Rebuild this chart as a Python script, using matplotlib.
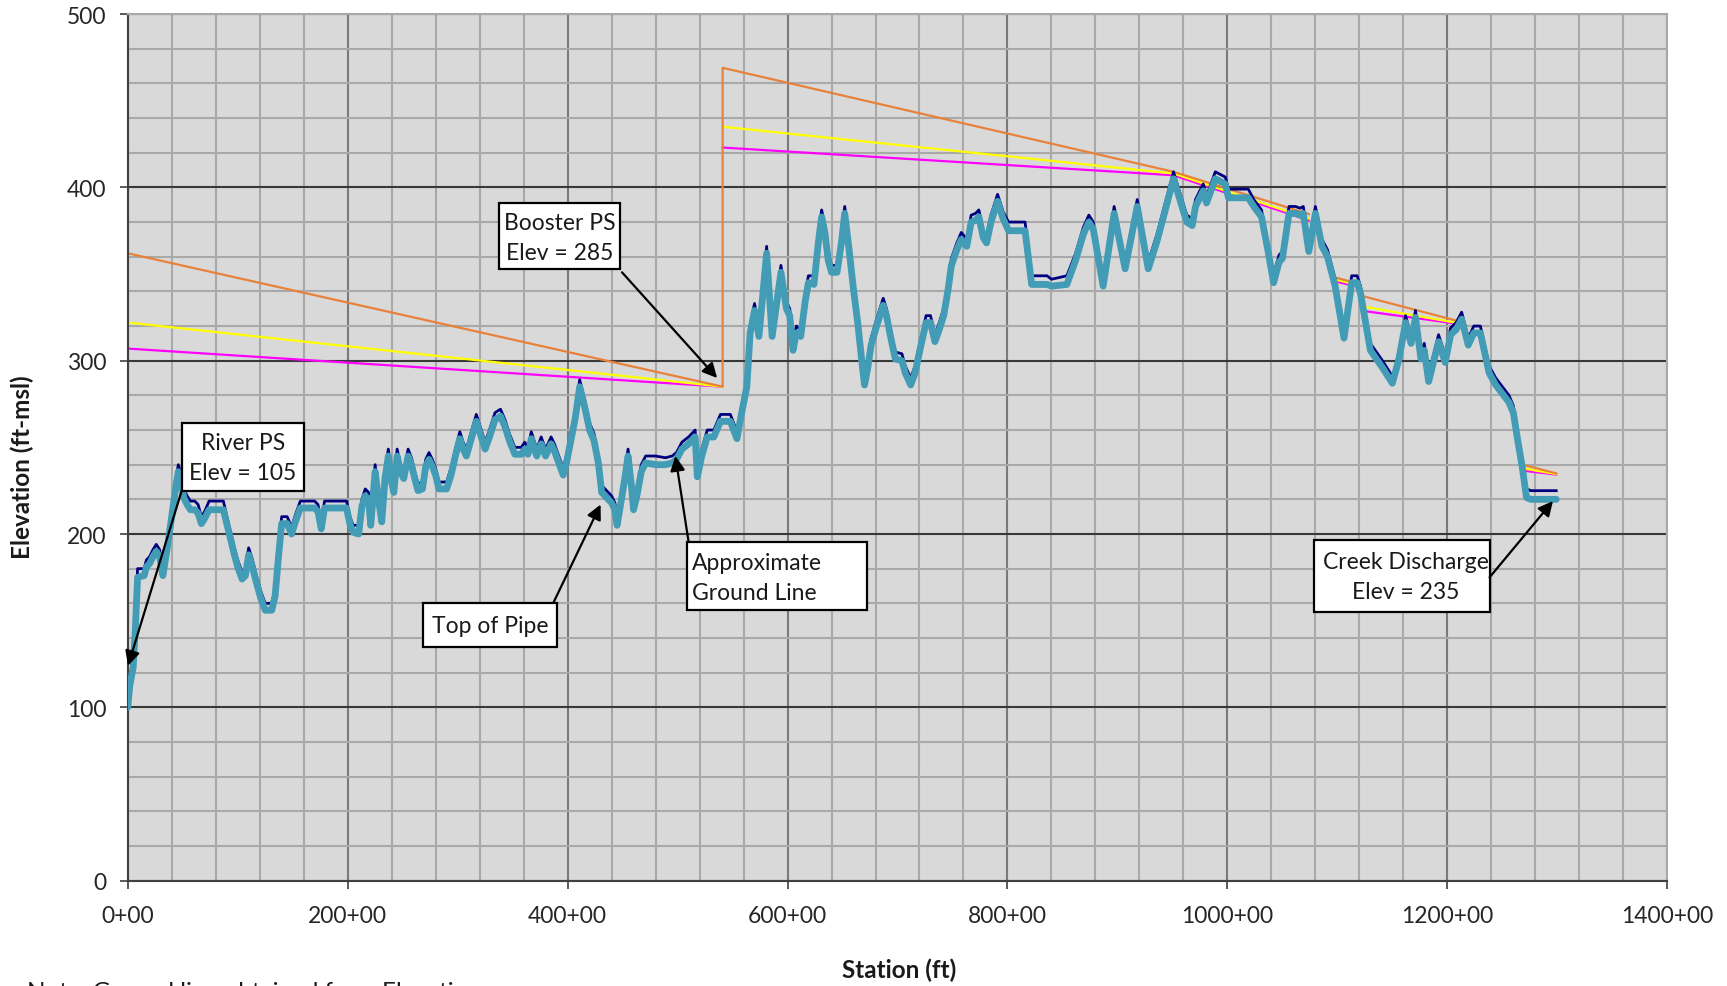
import matplotlib
matplotlib.use("Agg")
import matplotlib.pyplot as plt
from matplotlib.patches import Rectangle
from matplotlib.ticker import MultipleLocator, FuncFormatter
from matplotlib.transforms import Bbox

plt.rcParams['font.family'] = ['Lato', 'DejaVu Sans']

nan = float('nan')

# Pipeline profile: station in hundreds of feet (541 -> 541+00), elevations in ft-msl
station = [
    0, 2, 5, 7, 9, 15, 17, 20, 23, 26,
    29, 32, 36, 40, 44, 46, 48, 51, 54, 57,
    61, 64, 67, 70, 74, 87, 92, 97, 100, 104,
    107, 110, 113, 117, 121, 125, 131, 134, 137, 140,
    145, 149, 153, 157, 170, 173, 176, 179, 199, 202,
    205, 210, 213, 216, 219, 221, 225, 228, 231, 234,
    237, 240, 242, 245, 248, 251, 255, 258, 261, 264,
    268, 271, 274, 277, 280, 283, 290, 294, 298, 302,
    305, 308, 312, 317, 321, 325, 329, 334, 339, 343,
    347, 352, 358, 361, 364, 367, 372, 376, 380, 385,
    388, 392, 396, 399, 403, 407, 411, 416, 420, 424,
    428, 431, 434, 440, 443, 445, 449, 452, 455, 458,
    460, 463, 467, 471, 480, 489, 495, 499, 504, 510,
    516, 518, 522, 527, 533, 539, 548, 554, 558, 563,
    566, 570, 574, 581, 586, 594, 599, 602, 605, 608,
    612, 616, 619, 624, 628, 631, 634, 637, 640, 645,
    649, 652, 656, 660, 664, 668, 670, 673, 676, 681,
    687, 690, 693, 698, 704, 707, 712, 716, 721, 726,
    730, 734, 738, 742, 746, 749, 754, 758, 763, 767,
    771, 774, 778, 781, 785, 791, 796, 801, 816, 822,
    836, 840, 854, 862, 869, 874, 878, 887, 897, 907,
    918, 928, 936, 951, 963, 968, 971, 978, 981, 989,
    995, 998, 1001, 1019, 1024, 1031, 1037, 1042, 1047, 1050,
    1056, 1062, 1066, 1069, 1074, 1080, 1086, 1091, 1098, 1106,
    1113, 1118, 1121, 1130, 1141, 1148, 1150, 1156, 1162, 1167,
    1171, 1176, 1179, 1183, 1192, 1198, 1203, 1208, 1213, 1219,
    1224, 1230, 1238, 1244, 1250, 1256, 1260, 1264, 1268, 1272,
    1276, 1299,
]

ground_elev = [
    105, 118, 127, 150, 180, 180, 185, 187, 191, 194,
    191, 180, 196, 214, 232, 240, 236, 226, 222, 219,
    219, 217, 210, 213, 219, 219, 205, 192, 185, 178,
    180, 192, 186, 176, 167, 160, 160, 168, 190, 210,
    210, 204, 212, 219, 219, 217, 207, 219, 219, 210,
    205, 205, 220, 226, 224, 209, 240, 224, 211, 236,
    249, 234, 228, 249, 240, 236, 249, 244, 236, 229,
    230, 243, 247, 243, 238, 230, 230, 238, 249, 259,
    253, 249, 258, 269, 261, 253, 260, 270, 272, 266,
    258, 250, 250, 253, 250, 259, 249, 256, 249, 256,
    252, 245, 238, 245, 258, 271, 289, 276, 264, 258,
    245, 228, 226, 222, 218, 210, 224, 236, 249, 232,
    218, 226, 240, 245, 245, 244, 245, 247, 253, 256,
    260, 237, 249, 260, 260, 269, 269, 259, 273, 289,
    320, 333, 318, 366, 318, 355, 334, 330, 310, 320,
    318, 338, 349, 349, 372, 387, 378, 362, 355, 355,
    372, 389, 368, 345, 325, 301, 290, 300, 313, 324,
    336, 330, 320, 305, 304, 297, 290, 297, 312, 326,
    326, 315, 322, 330, 345, 359, 368, 374, 370, 384,
    385, 387, 375, 372, 384, 396, 386, 380, 380, 349,
    349, 347, 349, 362, 377, 384, 380, 346, 389, 357,
    393, 357, 373, 409, 384, 382, 393, 402, 395, 409,
    407, 406, 399, 399, 393, 387, 367, 350, 361, 363,
    389, 389, 388, 389, 367, 389, 370, 364, 347, 317,
    349, 349, 343, 310, 300, 293, 290, 305, 326, 314,
    329, 305, 310, 292, 315, 303, 319, 322, 328, 313,
    320, 320, 297, 290, 285, 280, 274, 258, 243, 226,
    225, 225,
]

pipe_elev = [
    100, 113, 123, 146, 175, 176, 181, 183, 187, 190,
    187, 176, 192, 210, 228, 236, 232, 221, 217, 214,
    214, 212, 206, 209, 214, 214, 201, 188, 181, 174,
    176, 188, 182, 172, 163, 156, 156, 164, 186, 206,
    206, 200, 208, 215, 215, 213, 203, 215, 215, 206,
    201, 200, 216, 222, 220, 205, 236, 220, 207, 232,
    245, 230, 224, 245, 236, 232, 245, 240, 232, 225,
    226, 239, 243, 239, 234, 226, 226, 234, 245, 255,
    249, 245, 254, 265, 257, 249, 256, 266, 268, 262,
    254, 246, 246, 249, 246, 255, 245, 252, 245, 252,
    248, 241, 234, 241, 254, 267, 285, 272, 260, 254,
    241, 224, 222, 218, 214, 205, 220, 232, 245, 228,
    214, 222, 236, 241, 240, 240, 241, 243, 249, 252,
    256, 233, 245, 256, 256, 265, 265, 255, 269, 285,
    316, 329, 314, 362, 314, 351, 330, 326, 306, 316,
    314, 334, 345, 344, 368, 383, 374, 358, 351, 351,
    368, 385, 364, 341, 321, 297, 286, 296, 309, 320,
    332, 326, 316, 301, 300, 293, 286, 293, 308, 322,
    322, 311, 318, 326, 341, 355, 364, 370, 366, 380,
    381, 383, 371, 368, 380, 392, 382, 375, 375, 344,
    344, 343, 344, 358, 373, 380, 376, 343, 385, 353,
    389, 353, 369, 405, 380, 378, 389, 398, 391, 405,
    403, 402, 394, 394, 389, 383, 363, 345, 357, 359,
    385, 385, 384, 385, 363, 385, 366, 360, 343, 313,
    345, 345, 339, 306, 296, 289, 287, 301, 322, 310,
    325, 301, 306, 288, 311, 299, 315, 318, 324, 309,
    316, 316, 293, 286, 281, 276, 270, 254, 239, 221,
    220, 220,
]

# Hydraulic grade lines for three flow cases (gaps where the grade follows the pipe)
hgl_high_sta = [0, 541, 541, 951, 1074, nan, 1098, 1113, nan, 1121, 1209, nan, 1272, 1299]
hgl_high_elev = [362, 285, 469, 409, 384.6, nan, 348, 345.5, nan, 337.6, 323, nan, 239.4, 235]

hgl_mid_sta = [0, 541, nan, 541, 951, 1074, nan, 1100, 1113, nan, 1126, 1207, nan, 1272, 1299]
hgl_mid_elev = [322, 285, nan, 435, 408, 382, nan, 346.5, 344.5, nan, 331, 322, nan, 237.5, 234.6]

hgl_low_sta = [0, 541, nan, 541, 951, 1074, nan, 1100, 1113, nan, 1126, 1207, nan, 1272, 1299]
hgl_low_elev = [307, 285, nan, 423, 407, 381, nan, 345.5, 343.5, nan, 328.5, 321.5, nan, 236.3, 234.3]

x_ticks = [0, 200, 400, 600, 800, 1000, 1200, 1400]
y_ticks = [0, 100, 200, 300, 400, 500]

# Callout boxes: (x0, x1, y0, y1) in data units, label lines
callouts = [
    dict(box=(49.1, 160.3, 225.0, 264.0), text="River PS\nElev = 105",
         pos=(104.7, 244.0), ha="center", tail=(49.1, 225.0), tip=(0.3, 124)),
    dict(box=(337.7, 447.8, 352.9, 391.0), text="Booster PS\nElev = 285",
         pos=(392.5, 371.0), ha="center", tail=(449.5, 351.0), tip=(536, 290)),
    dict(box=(268.9, 390.7, 134.6, 160.2), text="Top of Pipe",
         pos=(329.8, 147.0), ha="center", tail=(387.0, 160.2), tip=(430, 217)),
    dict(box=(508.5, 672.4, 156.0, 195.6), text="Approximate\nGround Line",
         pos=(513.5, 175.0), ha="left", tail=(510.0, 195.6), tip=(498, 245)),
    dict(box=(1078.3, 1238.4, 155.2, 196.5), text="Creek Discharge\nElev = 235",
         pos=(1162.0, 175.5), ha="center", tail=(1238.4, 175.0), tip=(1296, 219)),
]

W, H = 1727, 987
fig = plt.figure(figsize=(W / 100, H / 100), dpi=100)
ax = fig.add_axes([127.7 / W, (H - 881.6) / H, 1539.6 / W, 866.5 / H])

ax.set_facecolor("#D9D9D9")
ax.set_xlim(0, 1400)
ax.set_ylim(0, 500)

ax.xaxis.set_major_locator(MultipleLocator(200))
ax.xaxis.set_minor_locator(MultipleLocator(40))
ax.yaxis.set_major_locator(MultipleLocator(100))
ax.yaxis.set_minor_locator(MultipleLocator(20))
ax.set_xticks(x_ticks)
ax.set_yticks(y_ticks)
ax.xaxis.set_major_formatter(FuncFormatter(lambda v, p: f"{v:.0f}+00"))

ax.grid(which="minor", axis="both", color="#A9A9A9", lw=1.5, zorder=0)
ax.grid(which="major", axis="x", color="#7A7A7A", lw=1.5, zorder=0)
ax.grid(which="major", axis="y", color="#383838", lw=1.5, zorder=0)
ax.set_axisbelow(True)

ax.tick_params(which="minor", length=0)
ax.tick_params(which="major", direction="out", length=5.5, width=1.2,
               color="#404040", labelsize=16.5, labelcolor="#262626")
ax.tick_params(axis="y", pad=10)
ax.tick_params(axis="x", pad=12)

for side in ("left", "bottom"):
    ax.spines[side].set_color("#404040")
    ax.spines[side].set_linewidth(1.5)
for side in ("top", "right"):
    ax.spines[side].set_color("#A9A9A9")
    ax.spines[side].set_linewidth(1.5)

# Hydraulic grade lines
ax.plot(hgl_low_sta, hgl_low_elev, color="#FF00FF", lw=1.6, zorder=2)
ax.plot(hgl_mid_sta, hgl_mid_elev, color="#FFFF00", lw=1.6, zorder=2.1)
ax.plot(hgl_high_sta, hgl_high_elev, color="#E8823A", lw=1.6, zorder=2.2)

# Ground line and top of pipe
ax.plot(station, ground_elev, color="#00007F", lw=2.0, zorder=3,
        solid_joinstyle="round")
ax.plot(station, pipe_elev, color="#429CB5", lw=4.9, zorder=4,
        solid_joinstyle="round", solid_capstyle="round")

for c in callouts:
    x0, x1, y0, y1 = c["box"]
    ax.add_patch(Rectangle((x0, y0), x1 - x0, y1 - y0, facecolor="white",
                           edgecolor="black", lw=1.6, zorder=6))
    ax.text(c["pos"][0], c["pos"][1], c["text"], ha=c["ha"], va="center",
            fontsize=16.5, color="#1A1A1A", linespacing=1.5, zorder=7)
    ax.annotate("", xy=c["tip"], xytext=c["tail"], zorder=8,
                arrowprops=dict(arrowstyle="-|>", color="black", lw=1.6,
                                mutation_scale=22, shrinkA=0, shrinkB=0))

fig.text(22 / W, (H - 467) / H, "Elevation (ft-msl)", rotation=90,
         ha="center", va="center", fontsize=17.5, fontweight="bold", color="#1A1A1A")
fig.text(898.8 / W, (H - 970.3) / H, "Station (ft)", ha="center", va="center",
         fontsize=17.5, fontweight="bold", color="#1A1A1A")

note = fig.text(27 / W, 5 / H, "Note: Ground line obtained from Elevation data",
                ha="left", va="top", fontsize=17.5, color="#1A1A1A")
note.set_clip_box(Bbox.from_extents(0, 0, 460, H))
note.set_clip_on(True)

fig.savefig("out.png", dpi=100)
